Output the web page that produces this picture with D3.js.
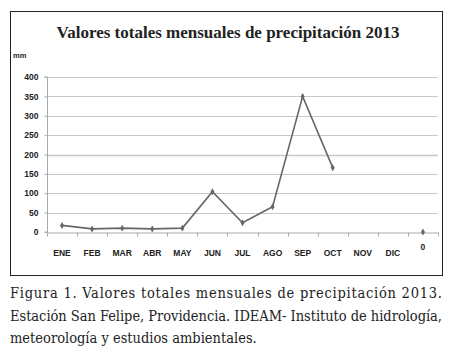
<!DOCTYPE html>
<html>
<head>
<meta charset="utf-8">
<script src="https://cdn.jsdelivr.net/npm/d3@7"></script>
<style>
  body { margin: 0; background: #fff; }
</style>
</head>
<body>
<div id="chart"></div>
<script>
// data
const months = ["ENE", "FEB", "MAR", "ABR", "MAY", "JUN", "JUL", "AGO", "SEP", "OCT", "NOV", "DIC", "0"];
const precip = [17, 8, 10, 8, 10, 104, 24, 65, 350, 166, null, null, 0];
const yTicks = [0, 50, 100, 150, 200, 250, 300, 350, 400];
const title = "Valores totales mensuales de precipitación 2013";
const caption = [
  "Figura 1. Valores totales mensuales de precipitación 2013.",
  "Estación San Felipe, Providencia. IDEAM- Instituto de hidrología,",
  "meteorología y estudios ambientales."
];

const W = 458, H = 353;
const plot = { left: 47, right: 438, top: 77, bottom: 232 };

const svg = d3.select("#chart").append("svg")
  .attr("width", W).attr("height", H);

// outer frame
svg.append("rect")
  .attr("x", 10.5).attr("y", 11.5)
  .attr("width", 432).attr("height", 264)
  .attr("fill", "none").attr("stroke", "#222").attr("stroke-width", 1);

svg.append("text")
  .text(title)
  .attr("x", 228).attr("y", 38)
  .attr("text-anchor", "middle")
  .attr("font-family", "Liberation Serif, serif")
  .attr("font-weight", "bold")
  .attr("font-size", 17)
  .attr("fill", "#222");

svg.append("text")
  .text("mm")
  .attr("x", 13).attr("y", 58)
  .attr("font-family", "Liberation Sans, Arial, sans-serif")
  .attr("font-weight", "bold")
  .attr("font-size", 7.5)
  .attr("fill", "#222");

// scales
const xScale = d3.scaleBand().domain(months).range([plot.left, plot.right]);
const yScale = d3.scaleLinear().domain([0, 400]).range([plot.bottom, plot.top]);

// gridlines
svg.append("g")
  .selectAll("line")
  .data(yTicks.filter(d => d > 0))
  .enter().append("line")
  .attr("x1", plot.left).attr("x2", plot.right)
  .attr("y1", d => Math.round(yScale(d)) + 0.5)
  .attr("y2", d => Math.round(yScale(d)) + 0.5)
  .attr("stroke", "#c8c8c8")
  .attr("stroke-width", d => d === 200 ? 1.5 : 1);

// y axis
const yAxis = d3.axisLeft(yScale).tickValues(yTicks).tickSize(3).tickPadding(6);
const y = svg.append("g")
  .attr("transform", "translate(" + (plot.left + 0.5) + ",0)")
  .call(yAxis);
y.select(".domain").attr("stroke", "#aaa").attr("d", "M-3," + plot.top + "H0V" + plot.bottom + "H-3");
y.selectAll(".tick line").attr("stroke", "#aaa");
y.selectAll(".tick text")
  .attr("font-family", "Liberation Sans, Arial, sans-serif")
  .attr("font-size", 8.5)
  .attr("font-weight", "bold")
  .attr("fill", "#222");

// x axis
const xAxis = d3.axisBottom(xScale).tickSize(0).tickPadding(17);
const x = svg.append("g")
  .attr("transform", "translate(0," + (plot.bottom + 0.5) + ")")
  .call(xAxis);
x.select(".domain").attr("stroke", "#aaa");
x.selectAll(".tick text")
  .attr("font-family", "Liberation Sans, Arial, sans-serif")
  .attr("font-size", 8.5)
  .attr("font-weight", "bold")
  .attr("fill", "#222")
  .attr("dy", d => d === "0" ? "0.1em" : "0.71em");
// tick marks between categories
x.selectAll(".sep")
  .data(d3.range(months.length + 1))
  .enter().append("line")
  .attr("class", "sep")
  .attr("x1", i => Math.round(plot.left + i * xScale.step()) + 0.5)
  .attr("x2", i => Math.round(plot.left + i * xScale.step()) + 0.5)
  .attr("y1", 0).attr("y2", 4)
  .attr("stroke", "#aaa");

// line
const pts = months.map((m, i) => ({ m, v: precip[i] }));
const line = d3.line()
  .defined(d => d.v !== null)
  .x(d => xScale(d.m) + xScale.bandwidth() / 2)
  .y(d => yScale(d.v));

svg.append("path")
  .datum(pts.slice(0, 10))
  .attr("d", line)
  .attr("fill", "none")
  .attr("stroke", "#666")
  .attr("stroke-width", 1.6);

svg.append("g")
  .selectAll("path")
  .data(pts.filter(d => d.v !== null))
  .enter().append("path")
  .attr("d", d3.symbol().type(d3.symbolDiamond).size(14))
  .attr("transform", d => "translate(" + (xScale(d.m) + xScale.bandwidth() / 2) + "," + yScale(d.v) + ")")
  .attr("fill", "#666");

// caption
svg.append("g")
  .selectAll("text")
  .data(caption)
  .enter().append("text")
  .text(d => d)
  .attr("x", 10)
  .attr("y", (d, i) => 298 + i * 22.5)
  .attr("font-family", "DejaVu Serif Condensed, DejaVu Serif, serif")
  .attr("font-stretch", "condensed")
  .attr("font-size", 14.5)
  .attr("fill", "#222")
  .each(function (d, i) {
    if (i < 2) d3.select(this).attr("textLength", 432).attr("lengthAdjust", "spacing");
  });
</script>
</body>
</html>
